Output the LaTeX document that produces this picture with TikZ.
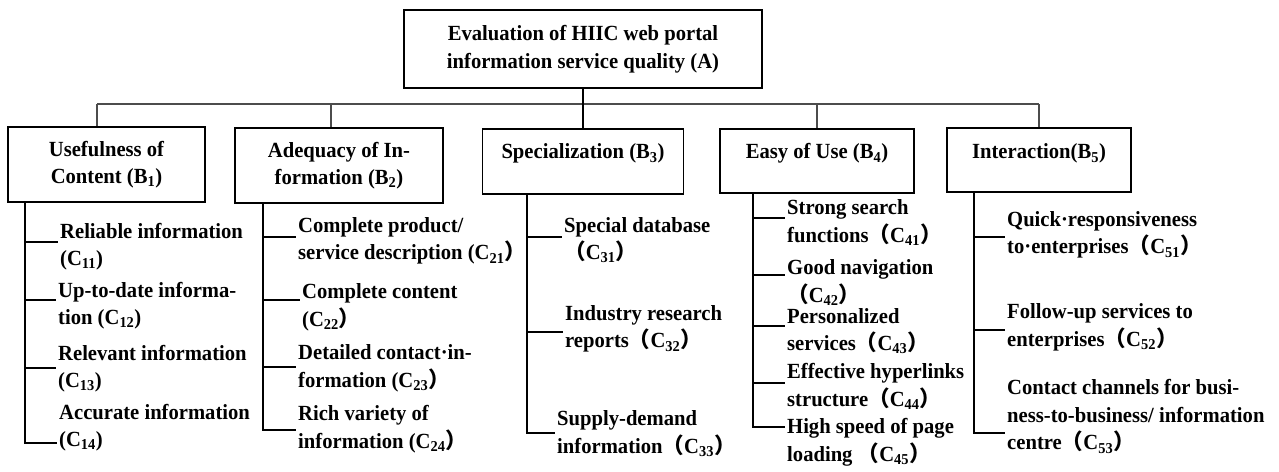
\documentclass[tikz,border=0pt]{standalone}
\usepackage{fontspec}
\setmainfont{Liberation Serif}[FakeStretch=0.955]
\newfontfamily\cjkfont{Noto Sans CJK SC}
\newcommand{\lpf}{{\cjkfont （}}
\newcommand{\rpf}{{\cjkfont ）}}
\begin{document}
\begin{tikzpicture}[x=1pt,y=-1pt,
  every node/.style={font=\fontsize{21.6}{27.5}\selectfont\bfseries},
  box/.style={draw, line width=1.8pt, inner sep=0pt},
  item/.style={anchor=west, align=left, inner xsep=2pt, inner ysep=0pt},
  conn/.style={line width=1.6pt},
  busline/.style={line width=1.3pt, draw=black!70}]
\useasboundingbox (0,0) rectangle (1279,471);

% top node
\node[box, align=center, minimum width=358pt, minimum height=78pt] (A) at (583,49)
  {Evaluation of HIIC web portal\\information service quality (A)};

% level B
\node[box, align=center, minimum width=197pt, minimum height=75pt] (B1) at (106.5,164.5)
  {Usefulness of\\Content (B\textsubscript{1})};
\node[box, align=center, minimum width=208pt, minimum height=75pt] (B2) at (339,165.5)
  {Adequacy of In-\\formation (B\textsubscript{2})};
\node[box, anchor=north, minimum width=201pt, text height=30pt, text depth=35pt] (B3) at (583,128)
  {Specialization (B\textsubscript{3})};
\node[box, anchor=north, minimum width=194pt, text height=30pt, text depth=34pt] (B4) at (817,128)
  {Easy of Use (B\textsubscript{4})};
\node[box, anchor=north, minimum width=184pt, text height=31pt, text depth=33pt] (B5) at (1039,127)
  {Interaction(B\textsubscript{5})};

% bus
\coordinate (bL) at (97,104);
\coordinate (b2) at (331,104);
\coordinate (bR) at (1039,104);
\draw[busline] (bL) -- (bR);
\draw[busline] (bL) -- (bL |- B1.north);
\draw[busline] (b2) -- (b2 |- B2.north);
\draw[busline] (B4.north |- bL) -- (B4.north);
\draw[busline] (bR) -- (B5.north);
\draw[conn] (A.south) -- (B3.north);

% level C: B1
\node[item] (C11) at (58,246.5) {Reliable information\\(C\textsubscript{11})};
\node[item] (C12) at (56,305.5) {Up-to-date informa-\\tion (C\textsubscript{12})};
\node[item] (C13) at (56,368.5) {Relevant information\\(C\textsubscript{13})};
\node[item] (C14) at (57,427.5) {Accurate information\\(C\textsubscript{14})};
% B2
\node[item] (C21) at (296,241) {Complete product/\\service description (C\textsubscript{21}\rpf};
\node[item] (C22) at (300,307.5) {Complete content\\(C\textsubscript{22}\rpf};
\node[item] (C23) at (296,368.5) {Detailed contact·in-\\formation (C\textsubscript{23}\rpf};
\node[item] (C24) at (296,429) {Rich variety of\\information (C\textsubscript{24}\rpf};
% B3
\node[item] (C31) at (562,240) {Special database\\\lpf C\textsubscript{31}\rpf};
\node[item] (C32) at (563,329) {Industry research\\reports\lpf C\textsubscript{32}\rpf};
\node[item] (C33) at (555,433.5) {Supply-demand\\information\lpf C\textsubscript{33}\rpf};
% B4
\node[item] (C41) at (785,222.5) {Strong search\\functions\lpf C\textsubscript{41}\rpf};
\node[item] (C42) at (785,282.5) {Good navigation\\\lpf C\textsubscript{42}\rpf};
\node[item] (C43) at (785,331) {Personalized\\services\lpf C\textsubscript{43}\rpf};
\node[item] (C44) at (785,386.5) {Effective hyperlinks\\structure\lpf C\textsubscript{44}\rpf};
\node[item] (C45) at (785,442.5) {High speed of page\\loading \lpf C\textsubscript{45}\rpf};
% B5
\node[item] (C51) at (1005,235) {Quick·responsiveness\\to·enterprises\lpf C\textsubscript{51}\rpf};
\node[item] (C52) at (1005,327.5) {Follow-up services to\\enterprises\lpf C\textsubscript{52}\rpf};
\node[item] (C53) at (1005,416.5) {Contact channels for busi-\\ness-to-business/ information\\centre\lpf C\textsubscript{53}\rpf};

% trunks and branches
\draw[conn] (B1.south -| 25,0) |- (C14.west |- 0,443);
\draw[conn] (25,242) -- (C11.west |- 0,242);
\draw[conn] (25,300) -- (C12.west |- 0,300);
\draw[conn] (25,368) -- (C13.west |- 0,368);

\draw[conn] (B2.south -| 263,0) |- (C24.west |- 0,430);
\draw[conn] (263,237) -- (C21.west |- 0,237);
\draw[conn] (263,300) -- (C22.west |- 0,300);
\draw[conn] (263,367) -- (C23.west |- 0,367);

\draw[conn] (B3.south -| 527,0) |- (C33.west |- 0,433);
\draw[conn] (527,237) -- (C31.west |- 0,237);
\draw[conn] (527,332) -- (C32.west |- 0,332);

\draw[conn] (B4.south -| 753,0) |- (C45.west |- 0,427);
\draw[conn] (753,218) -- (C41.west |- 0,218);
\draw[conn] (753,275) -- (C42.west |- 0,275);
\draw[conn] (753,326) -- (C43.west |- 0,326);
\draw[conn] (753,383) -- (C44.west |- 0,383);

\draw[conn] (B5.south -| 974,0) |- (C53.west |- 0,433);
\draw[conn] (974,237) -- (C51.west |- 0,237);
\draw[conn] (974,330) -- (C52.west |- 0,330);
\end{tikzpicture}
\end{document}
